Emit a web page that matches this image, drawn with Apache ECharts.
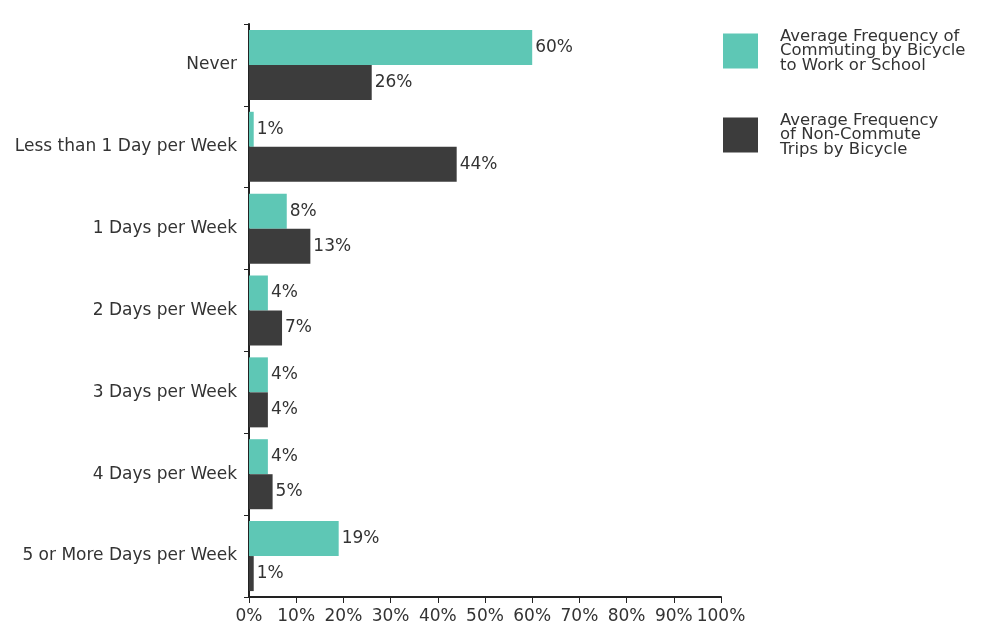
<!DOCTYPE html>
<html><head><meta charset="utf-8">
<script src="https://cdn.jsdelivr.net/npm/echarts@6/dist/echarts.min.js"></script>
<style>html,body{margin:0;padding:0;background:#fff}#c{width:990px;height:631px}</style>
</head><body><div id="c"></div>
<script>
const categories = ['Never','Less than 1 Day per Week','1 Days per Week','2 Days per Week','3 Days per Week','4 Days per Week','5 or More Days per Week'];
const commuteValues = [60, 1, 8, 4, 4, 4, 19];
const nonCommuteValues = [26, 44, 13, 7, 4, 5, 1];
const xTicks = [0,10,20,30,40,50,60,70,80,90,100];
const seriesNames = ['Average Frequency of\nCommuting by Bicycle\nto Work or School','Average Frequency\nof Non-Commute\nTrips by Bicycle'];
const colors = ['#5ec7b5','#3c3c3c'];

const font = 'DejaVu Sans, Verdana, sans-serif';
const chart = echarts.init(document.getElementById('c'));
const labelCfg = {show:true, position:'right', distance:3, formatter:'{c}%', color:'#333', fontSize:17, fontFamily:font};
chart.setOption({
  animation:false,
  color: colors,
  grid:{left:249, right:269, top:24, bottom:34, containLabel:false},
  legend:{
    orient:'vertical', left:723, top:28, padding:0, itemWidth:35, itemHeight:35, itemGap:38,
    icon:'rect',
    textStyle:{fontFamily:font, fontSize:16.5, color:'#333', lineHeight:14.5, padding:[0,0,0,17]},
    data: seriesNames
  },
  xAxis:{
    type:'value', min:0, max:100, interval:10,
    axisLine:{show:true, lineStyle:{color:'#222', width:2}},
    axisTick:{show:true, length:6, lineStyle:{color:'#222'}},
    splitLine:{show:false},
    axisLabel:{formatter:'{value}%', color:'#333', fontSize:17, fontFamily:font, margin:11}
  },
  yAxis:{
    type:'category', data:categories, inverse:true,
    axisLine:{show:true, lineStyle:{color:'#222', width:2}},
    axisTick:{show:true, length:5, lineStyle:{color:'#222'}},
    axisLabel:{color:'#333', fontSize:17, fontFamily:font, margin:12}
  },
  series:[
    {name:seriesNames[0], type:'bar', data:commuteValues, barWidth:35, barGap:'0%', label:labelCfg, itemStyle:{color:colors[0]}},
    {name:seriesNames[1], type:'bar', data:nonCommuteValues, barWidth:35, barGap:'0%', label:labelCfg, itemStyle:{color:colors[1]}}
  ]
});
</script></body></html>
